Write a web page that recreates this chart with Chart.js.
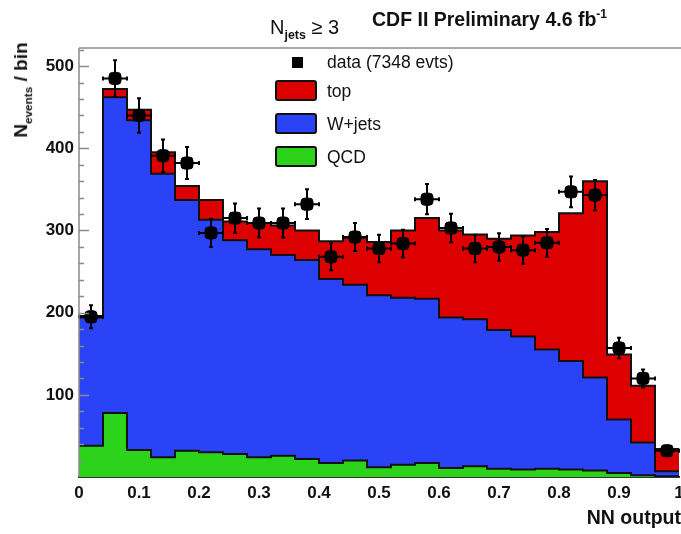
<!DOCTYPE html>
<html>
<head>
<meta charset="utf-8">
<script src="https://cdn.jsdelivr.net/npm/chart.js@4.4.1/dist/chart.umd.min.js"></script>
<style>
  body { margin: 0; background: #fff; }
  #wrap { position: relative; width: 681px; height: 534px; overflow: hidden; font-family: "Liberation Sans", Arial, sans-serif; }
  #wrap canvas { position: absolute; left: 0; top: 0; }
  .lbl { position: absolute; white-space: nowrap; color: #111; }
  .lbl sub, .lbl sup { font-size: 62%; }
  .box { position: absolute; width: 42px; height: 21px; border: 2px solid #111; border-radius: 3px; box-sizing: border-box; }
</style>
</head>
<body>
<div id="wrap">
  <canvas id="nnChart" width="681" height="534"></canvas>

  <div class="lbl" style="top:90px; left:22px; transform: translate(-50%,-50%) rotate(-90deg); font-weight:bold; font-size:19px;">N<sub>events</sub> / bin</div>
  <div class="lbl" style="left:270px; top:16px; font-size:20px;">N<sub style="font-weight:bold;">jets</sub> &ge; 3</div>
  <div class="lbl" style="left:372px; top:7px; font-size:19.5px; font-weight:bold;">CDF II Preliminary 4.6 fb<sup>-1</sup></div>
  <div class="lbl" style="right:0px; top:506px; font-size:19.5px; font-weight:bold;">NN output</div>

  <!-- legend -->
  <div style="position:absolute; left:292px; top:57px; width:11px; height:11px; background:#000;"></div>
  <div class="lbl" style="left:327px; top:52px; font-size:17.5px;">data (7348 evts)</div>
  <div class="box" style="left:275px; top:80px; background:#dd0000;"></div>
  <div class="lbl" style="left:327px; top:81px; font-size:17.5px;">top</div>
  <div class="box" style="left:275px; top:113px; background:#2b43f7;"></div>
  <div class="lbl" style="left:327px; top:114px; font-size:17.5px;">W+jets</div>
  <div class="box" style="left:275px; top:146px; background:#2dd21a;"></div>
  <div class="lbl" style="left:327px; top:147px; font-size:17.5px;">QCD</div>
</div>

<script>
// NN output bins (lower edges), width 0.04
const binLow = [0.00, 0.04, 0.08, 0.12, 0.16, 0.20, 0.24, 0.28, 0.32, 0.36, 0.40, 0.44, 0.48,
                0.52, 0.56, 0.60, 0.64, 0.68, 0.72, 0.76, 0.80, 0.84, 0.88, 0.92, 0.96];
const binWidth = 0.04;

// stacked components (events / bin)
const qcdCounts   = [38, 78, 33, 24, 32, 30, 28, 24, 26, 22, 17, 20, 12, 15, 17, 11, 13, 10, 9, 10, 9, 8, 5, 2, 1];
const wjetsCounts = [156, 384, 401, 345, 305, 283, 260, 253, 244, 242, 224, 214, 209, 203, 200, 183, 179, 169, 162, 145, 132, 113, 65, 40, 6];
const topCounts   = [2, 10, 13, 26, 17, 24, 23, 32, 36, 36, 46, 57, 65, 82, 98, 106, 103, 111, 123, 143, 180, 239, 79, 69, 27];

// observed data
const dataCounts = [195, 485, 440, 391, 382, 297, 315, 309, 309, 332, 268, 292, 278, 284, 338, 303, 278, 280, 276, 285, 347, 343, 157, 120, 32];

const yTicks = [100, 200, 300, 400, 500];

// step histogram points: one per lower edge, plus closing point at x=1
function histPoints(vals) {
    const pts = binLow.map((x, i) => ({ x: x, y: vals[i] }));
    pts.push({ x: binLow[binLow.length - 1] + binWidth, y: vals[vals.length - 1] });
    return pts;
}

const dataPoints = binLow.map((x, i) => ({ x: x + binWidth / 2, y: dataCounts[i] }));

function histSet(label, vals, color, fill) {
    return {
        type: 'line',
        label: label,
        data: histPoints(vals),
        stepped: 'before',
        borderColor: '#111',
        borderWidth: 2,
        backgroundColor: color,
        fill: fill,
        pointRadius: 0,
        order: 1
    };
}

// error bars (Poisson, sqrt(N)) and half-bin horizontal bars
const errorBars = {
    id: 'errorBars',
    afterDatasetsDraw(chart) {
        const xs = chart.scales.x, ys = chart.scales.y;
        const ctx = chart.ctx;
        ctx.save();
        ctx.strokeStyle = '#000';
        ctx.lineWidth = 2;
        dataPoints.forEach(p => {
            const err = Math.sqrt(p.y);
            const px = xs.getPixelForValue(p.x), py = ys.getPixelForValue(p.y);
            const x1 = xs.getPixelForValue(p.x - binWidth / 2), x2 = xs.getPixelForValue(p.x + binWidth / 2);
            const y1 = ys.getPixelForValue(p.y + err), y2 = ys.getPixelForValue(p.y - err);
            ctx.beginPath();
            ctx.moveTo(x1, py); ctx.lineTo(x2, py);
            ctx.moveTo(px, y1); ctx.lineTo(px, y2);
            // small end caps
            ctx.moveTo(px - 2, y1); ctx.lineTo(px + 2, y1);
            ctx.moveTo(px - 2, y2); ctx.lineTo(px + 2, y2);
            ctx.moveTo(x1, py - 2); ctx.lineTo(x1, py + 2);
            ctx.moveTo(x2, py - 2); ctx.lineTo(x2, py + 2);
            ctx.stroke();
        });
        ctx.restore();
    }
};

// ROOT-style frame: inward y ticks (major 100, minor 20) and top line
const frame = {
    id: 'frame',
    afterDraw(chart) {
        const ys = chart.scales.y, area = chart.chartArea;
        const ctx = chart.ctx;
        ctx.save();
        ctx.strokeStyle = '#8a8a8a';
        ctx.lineWidth = 1.5;
        ctx.beginPath();
        for (let v = 20; v <= ys.max; v += 20) {
            const py = Math.round(ys.getPixelForValue(v)) + 0.5;
            const len = v % 100 === 0 ? 10 : 5;
            ctx.moveTo(area.left, py); ctx.lineTo(area.left + len, py);
        }
        ctx.moveTo(area.left, area.top); ctx.lineTo(chart.width, area.top);
        ctx.moveTo(area.left, area.top); ctx.lineTo(area.left, area.bottom);
        ctx.stroke();
        ctx.restore();
    }
};

new Chart(document.getElementById('nnChart'), {
    data: {
        datasets: [
            histSet('QCD', qcdCounts, '#2dd21a', 'origin'),
            histSet('W+jets', wjetsCounts, '#2b43f7', '-1'),
            histSet('top', topCounts, '#dd0000', '-1'),
            {
                type: 'scatter',
                label: 'data (7348 evts)',
                data: dataPoints,
                stack: 'data',
                pointStyle: 'rectRounded',
                pointRadius: 7,
                backgroundColor: '#000',
                borderColor: '#000',
                order: 0
            }
        ]
    },
    options: {
        responsive: false,
        animation: false,
        devicePixelRatio: 1,
        layout: { autoPadding: false, padding: { top: 48, right: 2, left: 0, bottom: 0 } },
        plugins: {
            legend: { display: false },
            tooltip: { enabled: false }
        },
        scales: {
            x: {
                type: 'linear',
                min: 0,
                max: 1,
                grid: { display: false, drawTicks: false },
                border: { display: true, color: '#333', width: 2 },
                ticks: {
                    stepSize: 0.1,
                    padding: 6,
                    color: '#111',
                    font: { family: 'Liberation Sans', size: 17, weight: 'bold' },
                    maxRotation: 0,
                    callback: v => (Math.abs(v) < 1e-9 ? '0' : Math.abs(v - 1) < 1e-9 ? '1' : v.toFixed(1))
                },
                afterFit: s => { s.height = 57; s.paddingLeft = 0; s.paddingRight = 0; }
            },
            y: {
                stacked: true,
                min: 0,
                max: 522,
                grid: { display: false, drawTicks: false },
                border: { display: false },
                ticks: {
                    stepSize: 100,
                    includeBounds: false,
                    padding: 5,
                    color: '#111',
                    font: { family: 'Liberation Sans', size: 17, weight: 'bold' },
                    callback: v => (yTicks.includes(v) ? String(v) : '')
                },
                afterFit: s => { s.width = 79; s.paddingTop = 0; s.paddingBottom = 0; }
            }
        }
    },
    plugins: [errorBars, frame]
});
</script>
</body>
</html>
